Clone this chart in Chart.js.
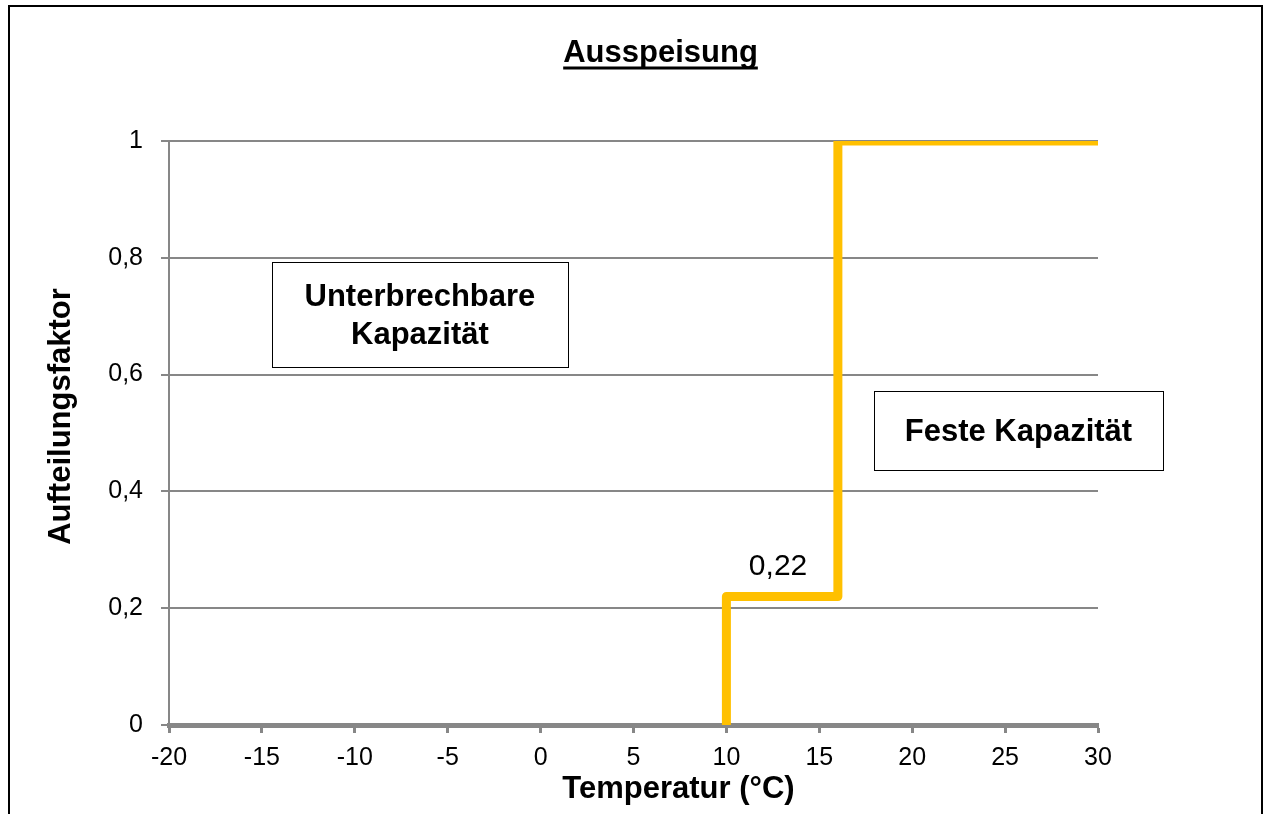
<!DOCTYPE html>
<html>
<head>
<meta charset="utf-8">
<script src="https://cdn.jsdelivr.net/npm/chart.js@4"></script>
<style>
  html, body { margin: 0; padding: 0; background: #fff; overflow: hidden; }
  #frame { position: absolute; left: 8px; top: 5px; width: 1251px; height: 900px; border: 2px solid #000; }
  #chart { position: absolute; left: 0; top: 0; }
</style>
</head>
<body>
<div id="frame"></div>
<canvas id="chart" width="1264" height="814"></canvas>
<script>
// Treppenkurve Ausspeisung
const stepTemps = [10, 10, 16, 16, 30];
const stepFactors = [0, 0.22, 0.22, 1, 1];
const xTickValues = [-20, -15, -10, -5, 0, 5, 10, 15, 20, 25, 30];
const yTickValues = [0, 0.2, 0.4, 0.6, 0.8, 1];
const valueLabel = "0,22";

const grey = "#878787";
const font = "'Liberation Sans', Arial, sans-serif";

// Titel, Achsentitel, Kästen und Beschriftung (Kästen in Datenkoordinaten)
const extras = {
  id: "extras",
  afterDatasetsDraw(chart) {
    const ctx = chart.ctx;
    const xs = chart.scales.x, ys = chart.scales.y;
    ctx.save();
    ctx.fillStyle = "#000";
    ctx.textAlign = "center";
    ctx.textBaseline = "alphabetic";

    // Titel, unterstrichen
    ctx.font = "bold 31px " + font;
    const tx = 660.5, ty = 61.5;
    ctx.fillText("Ausspeisung", tx, ty);
    const tw = ctx.measureText("Ausspeisung").width;
    ctx.fillRect(tx - tw / 2, ty + 5, tw, 3);

    // Achsentitel
    ctx.fillText("Temperatur (°C)", 678.5, 797.5);
    ctx.save();
    ctx.translate(70, 416.5);
    ctx.rotate(-Math.PI / 2);
    ctx.fillText("Aufteilungsfaktor", 0, 0);
    ctx.restore();

    const boxes = [
      { x0: -14.46, x1: 1.47, y0: 0.793, y1: 0.613, lines: ["Unterbrechbare", "Kapazität"] },
      { x0: 17.94, x1: 33.5, y0: 0.572, y1: 0.437, lines: ["Feste Kapazität"] }
    ];
    boxes.forEach(b => {
      const l = xs.getPixelForValue(b.x0), r = xs.getPixelForValue(b.x1);
      const t = ys.getPixelForValue(b.y0), bt = ys.getPixelForValue(b.y1);
      ctx.fillStyle = "#fff";
      ctx.fillRect(l, t, r - l, bt - t);
      ctx.strokeStyle = "#000";
      ctx.lineWidth = 1;
      ctx.strokeRect(Math.round(l) + 0.5, Math.round(t) + 0.5, Math.round(r - l), Math.round(bt - t));
      ctx.fillStyle = "#000";
      ctx.font = "bold 31px " + font;
      const cx = (l + r) / 2, cy = (t + bt) / 2, lh = 38;
      b.lines.forEach((s, i) => {
        ctx.fillText(s, cx, cy + 11 + (i - (b.lines.length - 1) / 2) * lh);
      });
    });

    ctx.font = "30px " + font;
    ctx.fillText(valueLabel, xs.getPixelForValue(12.78), ys.getPixelForValue(0.257));
    ctx.restore();
  }
};

new Chart(document.getElementById("chart"), {
  type: "line",
  data: {
    datasets: [{
      data: stepTemps.map((t, i) => ({ x: t, y: stepFactors[i] })),
      borderColor: "#FFC000",
      borderWidth: 9,
      borderJoinStyle: "round",
      borderCapStyle: "butt",
      pointRadius: 0,
      tension: 0,
      fill: false
    }]
  },
  options: {
    responsive: false,
    animation: false,
    layout: { padding: { top: 141, right: 166, left: 0, bottom: 0 } },
    plugins: {
      legend: { display: false },
      tooltip: { enabled: false }
    },
    scales: {
      x: {
        type: "linear",
        min: -20,
        max: 30,
        afterBuildTicks: s => { s.ticks = xTickValues.map(v => ({ value: v })); },
        afterFit: s => { s.height = 89; },
        grid: { drawOnChartArea: false, drawTicks: true, tickLength: 8, tickWidth: 3, tickColor: grey },
        border: { color: grey, width: 5 },
        ticks: {
          color: "#000",
          font: { family: font, size: 25 },
          padding: 10,
          maxRotation: 0,
          callback: v => String(v)
        },
        title: { display: false }
      },
      y: {
        min: 0,
        max: 1,
        afterBuildTicks: s => { s.ticks = yTickValues.map(v => ({ value: v })); },
        afterFit: s => { s.width = 169; },
        grid: { color: grey, lineWidth: 2, drawTicks: true, tickLength: 8, tickWidth: 2, tickColor: grey },
        border: { color: grey, width: 2 },
        ticks: {
          color: "#000",
          font: { family: font, size: 25 },
          padding: 18,
          callback: v => String(Math.round(v * 10) / 10).replace(".", ",")
        },
        title: { display: false }
      }
    }
  },
  plugins: [extras]
});
</script>
</body>
</html>
